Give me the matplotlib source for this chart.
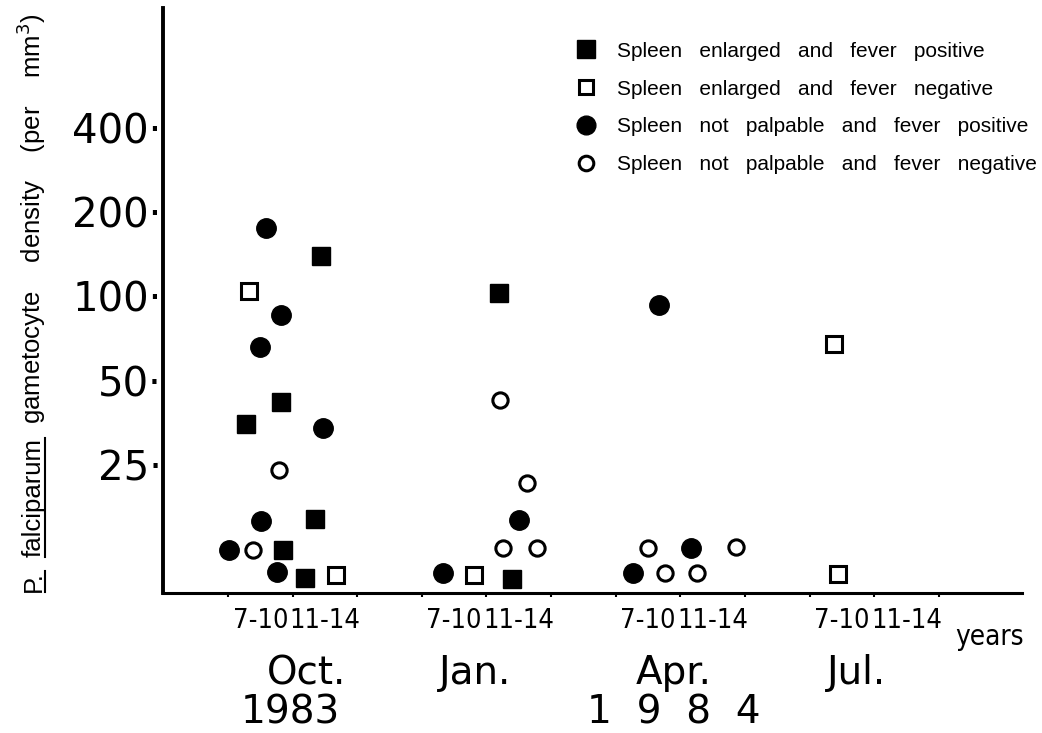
import matplotlib
matplotlib.use('Agg')
import matplotlib.pyplot as plt
from matplotlib.lines import Line2D
from matplotlib.ticker import FixedLocator, NullLocator, NullFormatter

# x = slot on the age axis (each survey has 3 slots: 7-10, 11-14, gap)
# y = gametocyte density per mm3 (log axis)
sep_x = [1.44, 0.82, 0.28, 1.35, 0.85, 1.19, 4.20, 4.40]
sep_y = [140, 42, 35, 16, 12.4, 9.9, 103, 9.8]
sen_x = [0.33, 1.67, 3.81, 9.37, 9.44]
sen_y = [105, 10.1, 10.1, 67.6, 10.2]
npp_x = [0.59, 0.82, 0.50, 1.47, 0.51, 0.02, 0.76, 4.50, 3.33, 6.67, 7.17, 6.27]
npp_y = [175, 86, 66, 34, 15.8, 12.4, 10.4, 15.9, 10.3, 93, 12.6, 10.3]
npn_x = [0.79, 0.39, 4.21, 4.63, 4.26, 4.78, 6.50, 7.86, 6.76, 7.26]
npn_y = [24, 12.4, 42.7, 21.6, 12.6, 12.6, 12.6, 12.7, 10.3, 10.3]

legend_labels = ['Spleen   enlarged   and   fever   positive',
                 'Spleen   enlarged   and   fever   negative',
                 'Spleen   not   palpable   and   fever   positive',
                 'Spleen   not   palpable   and   fever   negative']
y_ticks = [25, 50, 100, 200, 400]
age_labels = ['7-10', '11-14'] * 4
age_pos = [0.5, 1.5, 3.5, 4.5, 6.5, 7.5, 9.5, 10.5]
months = ['Oct.', 'Jan.', 'Apr.', 'Jul.']
month_pos = [1.22, 3.82, 6.90, 9.72]
years = ['1983', '1  9  8  4']
year_pos = [0.96, 6.90]

fig = plt.figure(figsize=(10.42, 7.33), dpi=100)
ax = fig.add_axes([0.1564, 0.191, 0.8246, 0.798])

ax.plot(sep_x, sep_y, 's', color='black', ms=13.5, ls='none')
ax.plot(sen_x, sen_y, 's', mfc='white', mec='black', mew=2.2, ms=11, ls='none')
ax.plot(npp_x, npp_y, 'o', color='black', ms=14, ls='none')
ax.plot(npn_x, npn_y, 'o', mfc='white', mec='black', mew=2.2, ms=11, ls='none')

ax.set_yscale('log', base=2)
ax.set_ylim(8.72, 1073)
ax.set_xlim(-1.006, 12.29)

ax.yaxis.set_major_locator(FixedLocator(y_ticks))
ax.yaxis.set_minor_locator(NullLocator())
ax.set_yticklabels([str(v) + '\u00b7' for v in y_ticks], fontsize=29)
ax.tick_params(axis='y', length=0, pad=1)

ax.set_xticks(range(12))
ax.xaxis.set_major_formatter(NullFormatter())
ax.set_xticks(age_pos, minor=True)
ax.set_xticklabels(age_labels, minor=True, fontsize=19.5, fontstretch='condensed')
ax.tick_params(axis='x', which='major', direction='out', length=3, width=1.5)
ax.tick_params(axis='x', which='minor', length=0, pad=11)

for s in ['top', 'right']:
    ax.spines[s].set_visible(False)
ax.spines['left'].set_linewidth(2.8)
ax.spines['bottom'].set_linewidth(2.2)

tr = ax.get_xaxis_transform()
for m, p in zip(months, month_pos):
    ax.text(p, -0.137, m, transform=tr, ha='center', va='center', fontsize=28, clip_on=False)
for yr, p in zip(years, year_pos):
    ax.text(p, -0.205, yr, transform=tr, ha='center', va='center', fontsize=28, clip_on=False)
ax.text(11.25, -0.075, 'years', transform=tr, ha='left', va='center', fontsize=20,
        fontstretch='condensed', clip_on=False)

handles = [
    Line2D([], [], marker='s', color='black', ms=13, ls='none'),
    Line2D([], [], marker='s', mfc='white', mec='black', mew=2.2, ms=10.5, ls='none'),
    Line2D([], [], marker='o', color='black', ms=13.5, ls='none'),
    Line2D([], [], marker='o', mfc='white', mec='black', mew=2.2, ms=10.5, ls='none'),
]
fig.legend(handles, legend_labels, loc='upper left', bbox_to_anchor=(0.553, 0.943),
           frameon=False, borderpad=0, borderaxespad=0, handlelength=0.95,
           handletextpad=1.0, labelspacing=0.9,
           prop={'family': 'Liberation Sans', 'size': 15})

# y label in pieces so that "P." and "falciparum" can be underlined
fig.canvas.draw()
r = fig.canvas.get_renderer()
W, H = fig.bbox.width, fig.bbox.height
xb = 41
cur = H - 592
pieces = [('P.', True), ('falciparum', True),
          ('gametocyte    density    (per    mm$^{3}$)', False)]
for txt, ul in pieces:
    t = fig.text(xb / W, cur / H, txt, rotation=90, rotation_mode='anchor', ha='left',
                 va='baseline', fontsize=18.5, family='Liberation Sans')
    bb = t.get_window_extent(r)
    if ul:
        fig.add_artist(Line2D([(xb + 4) / W] * 2, [cur / H, bb.y1 / H], color='black',
                              lw=1.5, transform=fig.transFigure))
    cur = bb.y1 + 14

plt.savefig('out.png', dpi=100)
plt.close()
